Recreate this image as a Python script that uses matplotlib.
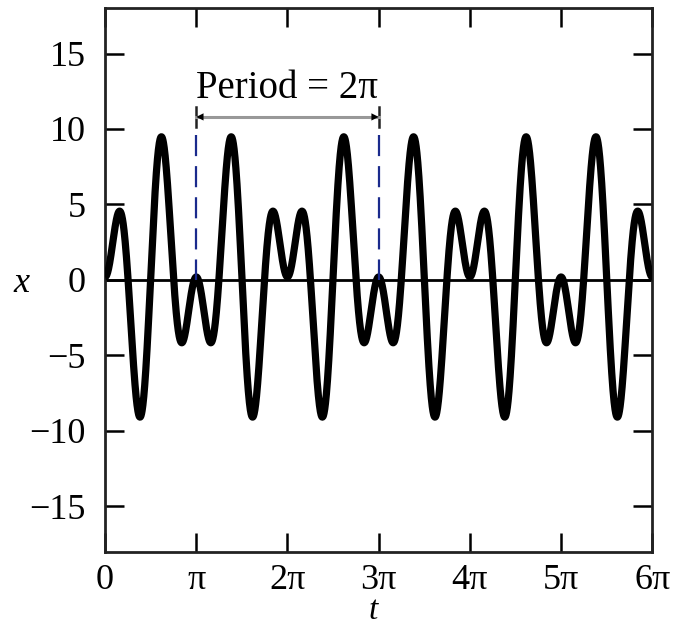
import matplotlib
matplotlib.use("Agg")
import matplotlib.pyplot as plt
import numpy as np

# x(t) = offset + sum of amp * cos(freq * t)
freqs = [0, 3, 5]
amps = [0.2, 5.0, -5.0]

t_max = 6 * np.pi
xticks = [0, np.pi, 2 * np.pi, 3 * np.pi, 4 * np.pi, 5 * np.pi, 6 * np.pi]
xtick_labels = ["0", "π", "2π", "3π", "4π", "5π", "6π"]
yticks = [-15, -10, -5, 0, 5, 10, 15]
ytick_labels = ["−15", "−10", "−5", "0", "5", "10", "15"]

period_start = np.pi
period_end = 3 * np.pi
arrow_y = 10.8
dash_top = 9.6
period_text = "Period = 2π"

plt.rcParams['font.family'] = ['Liberation Serif', 'DejaVu Serif']

t = np.linspace(0, t_max, 3000)
x = np.zeros_like(t)
for f, a in zip(freqs, amps):
    x += a * np.cos(f * t)

fig = plt.figure(figsize=(6.78, 6.32), dpi=100)
ax = fig.add_axes([0.155, 0.127, 0.807, 0.860])

ax.axhline(0, color='black', lw=2, zorder=2)
ax.plot(t, x, color='black', lw=5.2, solid_capstyle='butt', zorder=3)

# period markers
for px in (period_start, period_end):
    ax.plot([px, px], [dash_top, 0], color='#1a2a8c', lw=1.6,
            dashes=(9.5, 4.5), zorder=4)
    ax.plot([px, px], [arrow_y - 0.65, arrow_y + 0.65], color='#222222',
            lw=1.8, zorder=4)
ax.plot([period_start, period_end], [arrow_y, arrow_y], color='#999999',
        lw=2.2, zorder=4)
ax.annotate('', xy=(period_start, arrow_y), xytext=(period_end, arrow_y),
            arrowprops=dict(arrowstyle='<|-|>', color='black', lw=0.01,
                            mutation_scale=13, shrinkA=0, shrinkB=0),
            zorder=5)
ax.text((period_start + period_end) / 2, 12.7, period_text, ha='center',
        va='center', fontsize=28)

ax.set_xlim(0, t_max)
ax.set_ylim(-18, 18)
ax.set_xticks(xticks)
ax.set_xticklabels(xtick_labels)
ax.set_yticks(yticks)
ax.set_yticklabels(ytick_labels)
ax.tick_params(direction='in', length=14, width=1.8, top=True, right=True,
               labelsize=26)
ax.tick_params(axis='x', pad=9)
ax.tick_params(axis='y', pad=14)
for s in ax.spines.values():
    s.set_linewidth(2)
    s.set_color('#222222')

ax.set_xlabel('t', fontsize=24, style='italic')
ax.set_ylabel('x', fontsize=26, style='italic', rotation=0)
ax.xaxis.set_label_coords(0.49, -0.108)
ax.yaxis.set_label_coords(-0.152, 0.493)
ax.xaxis.label.set_va('center')
ax.yaxis.label.set_va('center')
ax.yaxis.label.set_ha('center')

fig.savefig('out.png', dpi=100)
